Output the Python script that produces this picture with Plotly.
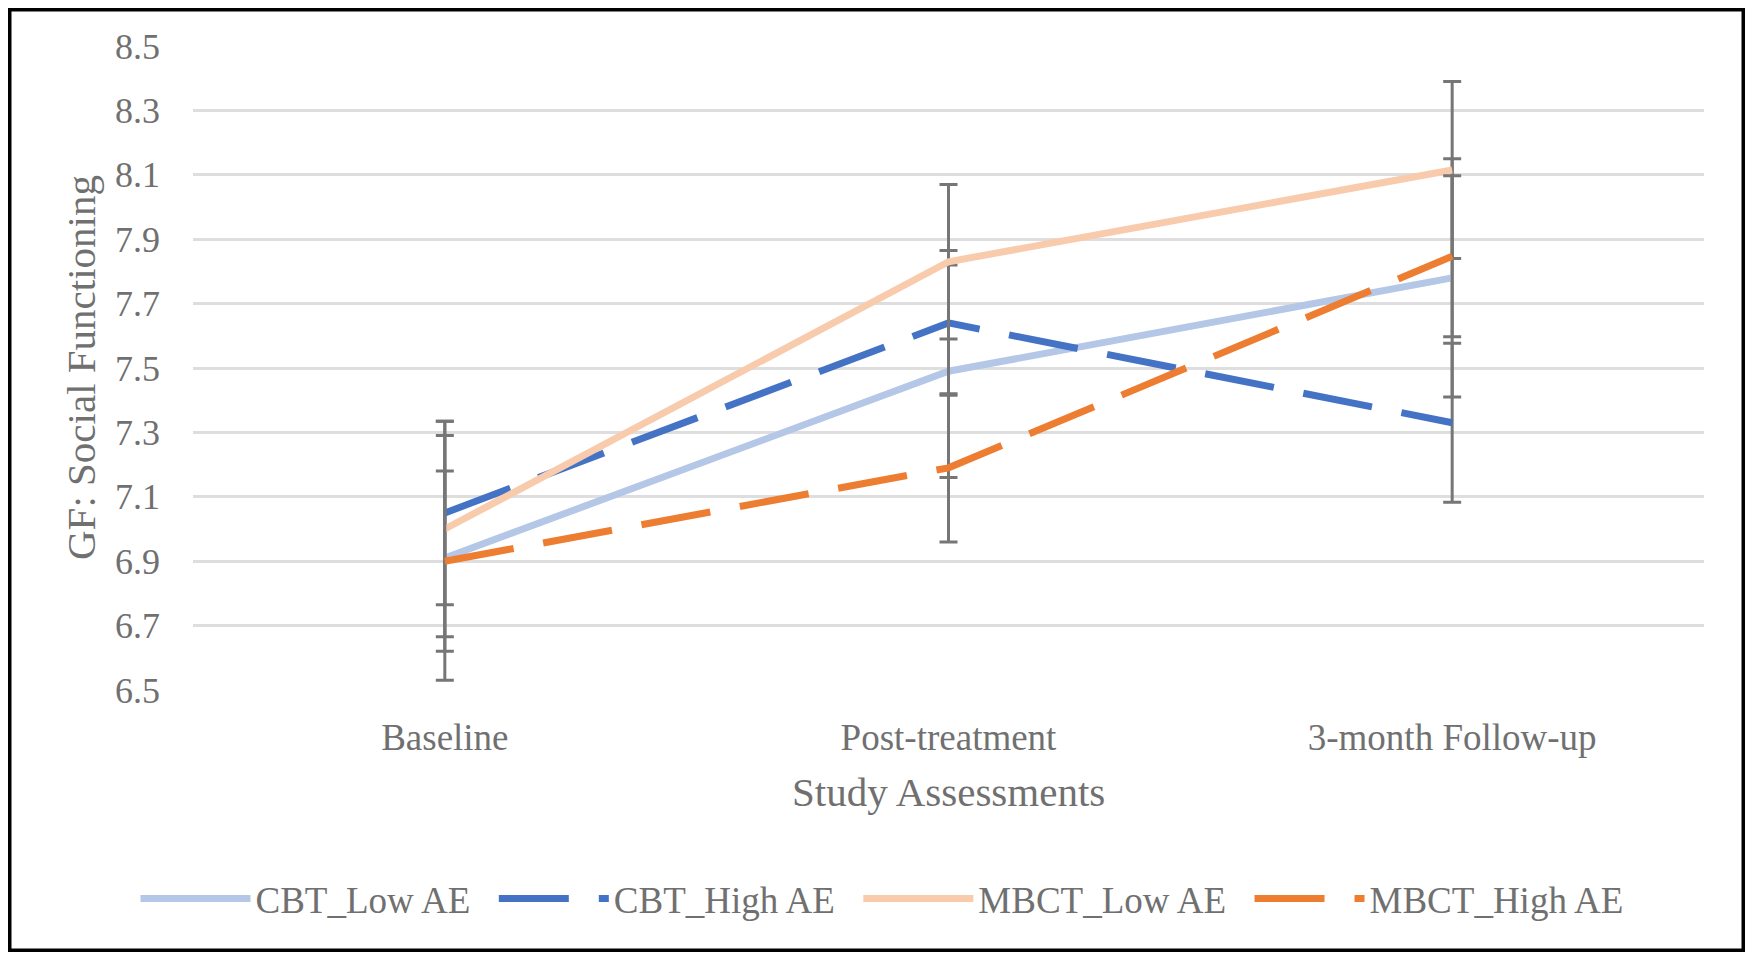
import plotly.graph_objects as go

categories = ["Baseline", "Post-treatment", "3-month Follow-up"]
series_names = ["CBT_Low AE", "CBT_High AE", "MBCT_Low AE", "MBCT_High AE"]

cbt_low = [6.91, 7.49, 7.78]
cbt_low_err = [0.38, 0.33, 0.37]
cbt_high = [7.05, 7.64, 7.33]
cbt_high_err = [0.285, 0.225, 0.247]
mbct_low = [7.00, 7.83, 8.115]
mbct_low_err = [0.335, 0.24, 0.275]
mbct_high = [6.90, 7.19, 7.847]
mbct_high_err = [0.28, 0.23, 0.25]

y_ticks = [6.5, 6.7, 6.9, 7.1, 7.3, 7.5, 7.7, 7.9, 8.1, 8.3, 8.5]

colors = ["#b4c7e7", "#4472c4", "#f8cbad", "#ed7d31"]
dashes = ["solid", "70px,30px", "solid", "70px,30px"]
values = [cbt_low, cbt_high, mbct_low, mbct_high]
errors = [cbt_low_err, cbt_high_err, mbct_low_err, mbct_high_err]

FONT = "Liberation Serif"
TXT = "#707070"

# page has an 8px body margin; figure sized so nothing overflows
OFF = 8
W, H = 1753 - 2 * OFF, 960 - 2 * OFF
L, R, T, B = 193 - OFF, 1704 - OFF, 46 - OFF, 690 - OFF

fig = go.Figure()
for i, (name, vals, errs, col, dash) in enumerate(
        zip(series_names, values, errors, colors, dashes)):
    label = name + ("\u00a0\u00a0" if i < len(series_names) - 1 else "")
    fig.add_trace(go.Scatter(
        x=categories, y=vals, name=label, mode="lines",
        line=dict(color=col, width=7, dash=dash),
        error_y=dict(type="data", array=errs, visible=True,
                     color="#767676", thickness=3, width=9),
    ))

fig.update_layout(
    width=W, height=H,
    margin=dict(l=L, r=W - R, t=T, b=H - B),
    paper_bgcolor="white", plot_bgcolor="white",
    font=dict(family=FONT, color=TXT),
    showlegend=True,
    legend=dict(
        orientation="h", xref="container", yref="container",
        x=(882 - OFF) / W, xanchor="center",
        y=1 - (899 - OFF) / H, yanchor="middle",
        font=dict(family=FONT, size=37, color=TXT),
        itemwidth=110, traceorder="normal",
        bgcolor="rgba(0,0,0,0)",
    ),
    xaxis=dict(
        type="category", range=[-0.5, 2.5],
        showgrid=False, zeroline=False, showline=False,
        ticks="", tickfont=dict(family=FONT, size=37, color=TXT),
        ticklabelstandoff=22,
    ),
    yaxis=dict(
        range=[6.5, 8.5], tickvals=y_ticks,
        ticktext=[f"{v:.1f}" for v in y_ticks],
        showgrid=True, gridcolor="#dedede", gridwidth=3,
        zeroline=False, showline=False, ticks="",
        tickfont=dict(family=FONT, size=36, color=TXT),
        ticklabelstandoff=32,
    ),
    annotations=[
        dict(text="Study Assessments", xref="paper", yref="paper",
             x=0.5, y=(B - (792 - OFF)) / (B - T),
             xanchor="center", yanchor="middle",
             showarrow=False, font=dict(family=FONT, size=41, color=TXT)),
        dict(text="GF: Social Functioning", xref="paper", yref="paper",
             x=((81 - OFF) - L) / (R - L), y=(B - (368 - OFF)) / (B - T),
             xanchor="center", yanchor="middle", textangle=-90,
             showarrow=False, font=dict(family=FONT, size=41, color=TXT)),
    ],
    shapes=[
        dict(type="rect", xref="paper", yref="paper",
             x0=(1.75 - L) / (R - L), x1=(W - 1.75 - L) / (R - L),
             y0=(B - (H - 1.75)) / (B - T), y1=(B - 1.75) / (B - T),
             line=dict(color="black", width=3.5), fillcolor="rgba(0,0,0,0)",
             layer="above"),
    ],
)

fig.write_html("out.html")
